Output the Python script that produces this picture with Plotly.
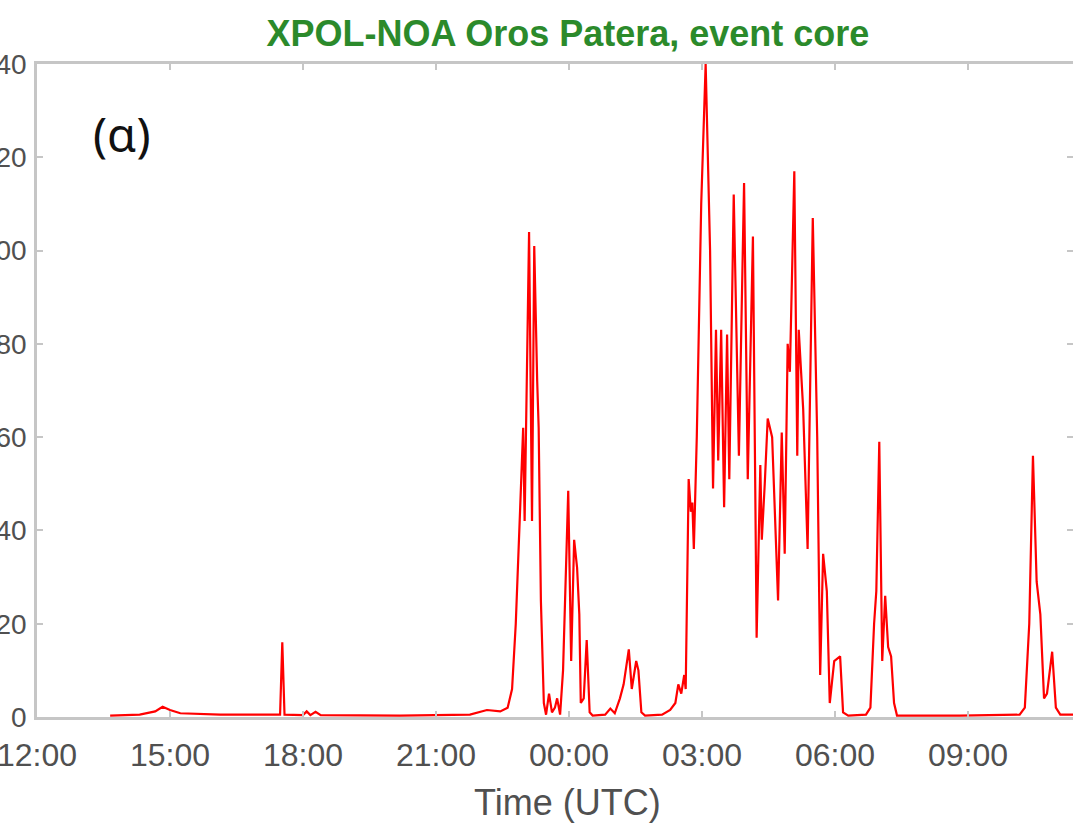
import plotly.graph_objects as go

DAY1 = "2020-01-01"
DAY2 = "2020-01-02"

day1_times = ["13:39", "14:19", "14:40", "14:50", "15:00", "15:14", "16:08", "17:29", "17:32", "17:35",
              "18:00", "18:05", "18:10", "18:17", "18:24", "20:11", "21:46", "22:09", "22:27", "22:37",
              "22:43", "22:48", "22:54", "22:58", "23:00", "23:06", "23:10", "23:13", "23:17", "23:19",
              "23:22", "23:26", "23:29", "23:33", "23:37", "23:41", "23:44", "23:48", "23:52", "23:59"]
day1_values = [0.3, 0.5, 1.2, 2.2, 1.5, 0.8, 0.5, 0.5, 16, 0.5,
               0.4, 1.2, 0.4, 1.1, 0.4, 0.3, 0.5, 1.5, 1.2, 2,
               6, 20, 45, 62, 42, 104, 42, 101, 72, 62,
               25, 3, 0.5, 5, 1, 2, 4, 0.5, 10, 48.5]

day2_times = ["00:03", "00:07", "00:11", "00:14", "00:16", "00:20", "00:24", "00:28", "00:32", "00:49",
              "00:56", "01:02", "01:09", "01:14", "01:21", "01:25", "01:31", "01:34", "01:38", "01:43",
              "02:06", "02:17", "02:24", "02:28", "02:32", "02:36", "02:38", "02:42", "02:45", "02:47",
              "02:49", "02:53", "02:59", "03:05", "03:11", "03:15", "03:19", "03:22", "03:26", "03:30",
              "03:34", "03:37", "03:43", "03:50", "03:57", "04:02", "04:09", "04:14", "04:19", "04:21",
              "04:25", "04:29", "04:35", "04:43", "04:48", "04:52", "04:56", "04:59", "05:05", "05:09",
              "05:11", "05:17", "05:23", "05:30", "05:36", "05:40", "05:44", "05:49", "05:53", "05:59",
              "06:07", "06:11", "06:18", "06:42", "06:48", "06:53", "06:56", "07:00", "07:04", "07:08",
              "07:12", "07:16", "07:20", "07:24", "08:49", "10:10", "10:17", "10:23", "10:28", "10:33",
              "10:38", "10:43", "10:47", "10:54", "10:59", "11:05", "11:50"]
day2_values = [12, 38, 32, 22, 3, 4, 16.5, 1, 0.3, 0.5,
               1.8, 0.8, 4, 7, 14.5, 6, 12, 10, 1, 0.3,
               0.5, 1.5, 3, 7, 5, 9, 6, 51, 44, 46,
               36, 60, 110, 140, 100, 49, 83, 55, 83, 45,
               82, 51, 112, 56, 114.5, 51, 103, 17, 54, 38,
               50, 64, 60, 25, 61, 35, 80, 74, 117, 56,
               83, 66, 36, 107, 60, 9, 35, 27, 3, 12,
               13, 1, 0.3, 0.5, 2, 20, 27, 59, 12, 26,
               15, 13, 3, 0.3, 0.3, 0.5, 2, 20, 56, 29,
               22, 4, 5, 14, 2, 0.5, 0.5]

tick_times = [DAY1 + " 12:00", DAY1 + " 15:00", DAY1 + " 18:00", DAY1 + " 21:00",
              DAY2 + " 00:00", DAY2 + " 03:00", DAY2 + " 06:00", DAY2 + " 09:00", DAY2 + " 12:00"]
tick_labels = ["12:00", "15:00", "18:00", "21:00", "00:00", "03:00", "06:00", "09:00", "12:00"]
y_ticks = [0, 20, 40, 60, 80, 100, 120, 140]

x = [DAY1 + " " + t for t in day1_times] + [DAY2 + " " + t for t in day2_times]
y = day1_values + day2_values

FONT = "Liberation Sans, Arial, sans-serif"
AXIS_GRAY = "#c6c6c6"
TICK_COLOR = "#505050"

fig = go.Figure()
fig.add_trace(go.Scatter(x=x, y=y, mode="lines",
                         line=dict(color="#ff0000", width=2.2),
                         showlegend=False, hoverinfo="skip"))

fig.update_layout(
    width=1073, height=825,
    margin=dict(l=37, r=0, t=64, b=108),
    paper_bgcolor="white", plot_bgcolor="white",
    template="none",
    showlegend=False,
    title=dict(text="<b>XPOL-NOA Oros Patera, event core</b>",
               font=dict(family=FONT, size=36, color="#2b8a2b"),
               x=0.5125, xref="paper", xanchor="center",
               y=1 - 33 / 825, yref="container", yanchor="middle"),
    xaxis=dict(type="date",
               range=[DAY1 + " 12:00", DAY2 + " 11:22:12"],
               tickmode="array", tickvals=tick_times, ticktext=tick_labels,
               ticks="inside", ticklen=6, tickwidth=1.5, tickcolor=AXIS_GRAY,
               showline=True, linecolor=AXIS_GRAY, linewidth=2.5, mirror="ticks",
               showgrid=False, zeroline=False, automargin=False,
               tickfont=dict(family=FONT, size=32, color=TICK_COLOR),
               ticklabelstandoff=8, ticklabeloverflow="allow"),
    yaxis=dict(range=[0, 140], tickmode="array", tickvals=y_ticks,
               ticks="inside", ticklen=6, tickwidth=1.5, tickcolor=AXIS_GRAY,
               showline=True, linecolor=AXIS_GRAY, linewidth=2.5, mirror="ticks",
               showgrid=False, zeroline=False, automargin=False,
               tickfont=dict(family=FONT, size=28, color=TICK_COLOR),
               ticklabelstandoff=2, ticklabeloverflow="allow"),
    annotations=[
        dict(text="Time (UTC)", xref="paper", yref="paper", x=0.5125, y=-0.131,
             xanchor="center", yanchor="middle", showarrow=False,
             font=dict(family=FONT, size=36, color=TICK_COLOR)),
        dict(text="(α)", xref="paper", yref="paper", x=0.082, y=0.893,
             xanchor="center", yanchor="middle", showarrow=False,
             font=dict(family="Noto Sans, sans-serif", size=47, color="#111111")),
    ],
)

fig.write_html("out.html", config={"displayModeBar": False},
               post_script="document.body.style.margin='0';")
